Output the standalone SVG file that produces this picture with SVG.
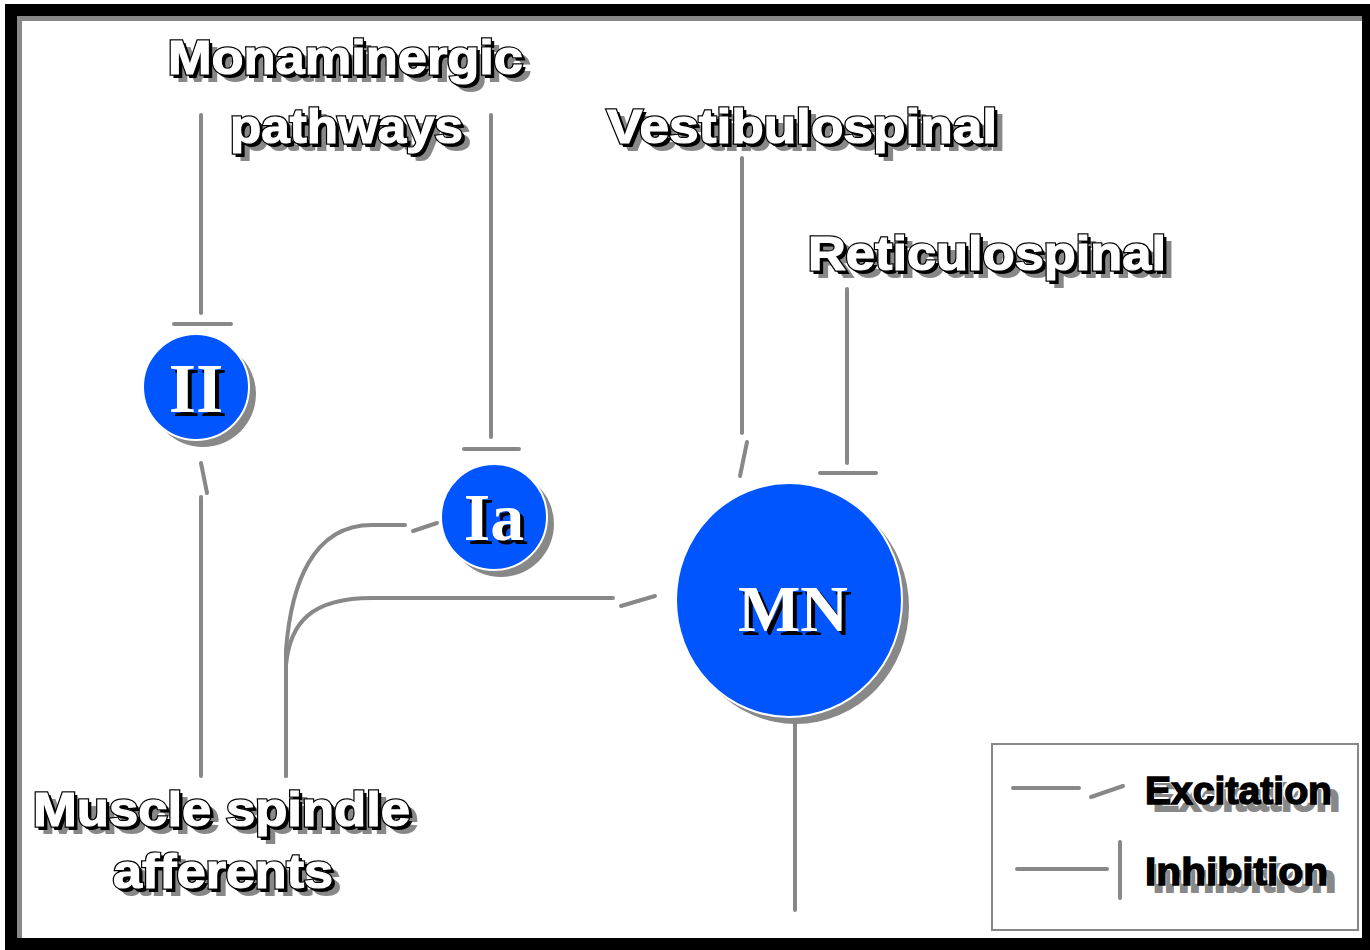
<svg xmlns="http://www.w3.org/2000/svg" xmlns:xlink="http://www.w3.org/1999/xlink" width="1370" height="950" viewBox="0 0 1370 950">
<style>
.lbl{font-family:"Liberation Sans",Arial,sans-serif;font-weight:bold;font-size:48px}
.leg{font-family:"Liberation Sans",Arial,sans-serif;font-weight:bold;font-size:38px}
.nt{font-family:"Liberation Serif","Times New Roman",serif;font-weight:bold;text-anchor:middle}
.sh{fill:#888888;stroke:#888888;stroke-width:2}
.bk{fill:#000000;stroke:#000000;stroke-width:2}
.ol{fill:#000000;stroke:#000000;stroke-width:3.5}
.wh{fill:#ffffff;stroke:#ffffff;stroke-width:1.2}
.lb{fill:#000000;stroke:#000000;stroke-width:1.4}
.lw{fill:#ffffff;stroke:#ffffff;stroke-width:1.4}
.nw{fill:#ffffff}
.nb{fill:#000000}
.con{fill:none;stroke:#888888;stroke-width:4;stroke-linecap:round}
.cell{fill:#0055ff;stroke:#ffffff;stroke-width:2}
</style>
<defs>
<text id="t1" class="lbl" x="168" y="74" textLength="355" lengthAdjust="spacingAndGlyphs">Monaminergic</text>
<text id="t2" class="lbl" x="230" y="143" textLength="233" lengthAdjust="spacingAndGlyphs">pathways</text>
<text id="t3" class="lbl" x="607" y="143" textLength="390" lengthAdjust="spacingAndGlyphs">Vestibulospinal</text>
<text id="t4" class="lbl" x="808" y="270" textLength="358" lengthAdjust="spacingAndGlyphs">Reticulospinal</text>
<text id="t5" class="lbl" x="33" y="826" textLength="377" lengthAdjust="spacingAndGlyphs">Muscle spindle</text>
<text id="t6" class="lbl" x="113" y="888" textLength="220" lengthAdjust="spacingAndGlyphs">afferents</text>
<text id="t7" class="leg" x="1145" y="804" textLength="187" lengthAdjust="spacingAndGlyphs">Excitation</text>
<text id="t8" class="leg" x="1145" y="885" textLength="183" lengthAdjust="spacingAndGlyphs">Inhibition</text>
<text id="n1" class="nt" x="196" y="412" font-size="70">II</text>
<text id="n2" class="nt" x="494" y="540" font-size="68">Ia</text>
<text id="n3" class="nt" x="793" y="631" font-size="66">MN</text>
</defs>
<rect x="0" y="0" width="1370" height="950" fill="#ffffff"/>
<rect x="5" y="4" width="1365" height="946" fill="#000000"/>
<rect x="17" y="16" width="1345" height="922" fill="#888888"/>
<rect x="22" y="21" width="1340" height="917" fill="#ffffff"/>

<g id="connectors">
<line class="con" x1="201" y1="115" x2="201" y2="313"/>
<line class="con" x1="174" y1="324" x2="231" y2="324"/>
<line class="con" x1="201" y1="776" x2="201" y2="497"/>
<line class="con" x1="207" y1="493" x2="201" y2="463"/>
<line class="con" x1="491" y1="115" x2="491" y2="437"/>
<line class="con" x1="464" y1="449" x2="519" y2="449"/>
<line class="con" x1="742" y1="158" x2="742" y2="433"/>
<line class="con" x1="747" y1="442" x2="740" y2="476"/>
<line class="con" x1="847" y1="289" x2="847" y2="463"/>
<line class="con" x1="820" y1="473" x2="876" y2="473"/>
<line class="con" x1="795" y1="717" x2="795" y2="910"/>
<path class="con" d="M286,776 L286,650 C291,585 312,525 372,525 L405,525"/>
<line class="con" x1="413" y1="531" x2="437" y2="523"/>
<path class="con" d="M286,776 L286,665 C290,622 312,598 372,598 L613,598"/>
<line class="con" x1="621" y1="606" x2="655" y2="596"/>
</g>

<g id="node-II">
<circle cx="203" cy="394" r="53" fill="#888888"/>
<circle class="cell" cx="196" cy="387" r="53"/>
<use xlink:href="#n1" class="nb" x="4" y="4"/><use xlink:href="#n1" class="nw"/>
</g>
<g id="node-Ia">
<circle cx="501" cy="524" r="53" fill="#888888"/>
<circle class="cell" cx="494" cy="517" r="53"/>
<use xlink:href="#n2" class="nb" x="4" y="4"/><use xlink:href="#n2" class="nw"/>
</g>
<g id="node-MN">
<ellipse cx="796" cy="607" rx="113" ry="117" fill="#888888"/>
<ellipse class="cell" cx="789" cy="600" rx="113" ry="117"/>
<use xlink:href="#n3" class="nb" x="4" y="4"/><use xlink:href="#n3" class="nw"/>
</g>

<g id="label-monaminergic">
<use xlink:href="#t1" class="sh" x="8" y="7"/><use xlink:href="#t1" class="bk" x="3" y="3"/><use xlink:href="#t1" class="ol"/><use xlink:href="#t1" class="wh"/>
<use xlink:href="#t2" class="sh" x="8" y="7"/><use xlink:href="#t2" class="bk" x="3" y="3"/><use xlink:href="#t2" class="ol"/><use xlink:href="#t2" class="wh"/>
</g>
<g id="label-vestibulospinal">
<use xlink:href="#t3" class="sh" x="8" y="7"/><use xlink:href="#t3" class="bk" x="3" y="3"/><use xlink:href="#t3" class="ol"/><use xlink:href="#t3" class="wh"/>
</g>
<g id="label-reticulospinal">
<use xlink:href="#t4" class="sh" x="8" y="7"/><use xlink:href="#t4" class="bk" x="3" y="3"/><use xlink:href="#t4" class="ol"/><use xlink:href="#t4" class="wh"/>
</g>
<g id="label-muscle-spindle">
<use xlink:href="#t5" class="sh" x="8" y="7"/><use xlink:href="#t5" class="bk" x="3" y="3"/><use xlink:href="#t5" class="ol"/><use xlink:href="#t5" class="wh"/>
<use xlink:href="#t6" class="sh" x="8" y="7"/><use xlink:href="#t6" class="bk" x="3" y="3"/><use xlink:href="#t6" class="ol"/><use xlink:href="#t6" class="wh"/>
</g>

<g id="legend">
<rect x="992" y="744" width="366" height="186" fill="none" stroke="#888888" stroke-width="2"/>
<line class="con" x1="1013" y1="788" x2="1079" y2="788"/>
<line class="con" x1="1091" y1="797" x2="1123" y2="786"/>
<line class="con" x1="1017" y1="869" x2="1107" y2="869"/>
<line class="con" x1="1120" y1="842" x2="1120" y2="898"/>
<use xlink:href="#t7" class="sh" x="8" y="7"/><use xlink:href="#t7" class="lw" x="-2" y="-2"/><use xlink:href="#t7" class="lb"/>
<use xlink:href="#t8" class="sh" x="8" y="7"/><use xlink:href="#t8" class="lw" x="-2" y="-2"/><use xlink:href="#t8" class="lb"/>
</g>
</svg>
